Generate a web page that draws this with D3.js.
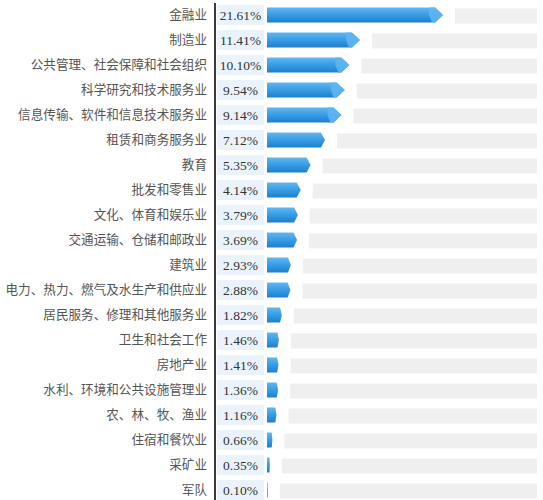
<!DOCTYPE html>
<html><head><meta charset="utf-8">
<script src="https://cdn.jsdelivr.net/npm/d3@7"></script>
<style>html,body{margin:0;padding:0;background:#fff;}svg{display:block;}</style>
</head><body>
<svg id="c" width="543" height="500"></svg>
<script>
const categories = ["金融业","制造业","公共管理、社会保障和社会组织","科学研究和技术服务业","信息传输、软件和信息技术服务业","租赁和商务服务业","教育","批发和零售业","文化、体育和娱乐业","交通运输、仓储和邮政业","建筑业","电力、热力、燃气及水生产和供应业","居民服务、修理和其他服务业","卫生和社会工作","房地产业","水利、环境和公共设施管理业","农、林、牧、渔业","住宿和餐饮业","采矿业","军队"];
const values = [21.61,11.41,10.10,9.54,9.14,7.12,5.35,4.14,3.79,3.69,2.93,2.88,1.82,1.46,1.41,1.36,1.16,0.66,0.35,0.10];
const valueLabels = ["21.61%","11.41%","10.10%","9.54%","9.14%","7.12%","5.35%","4.14%","3.79%","3.69%","2.93%","2.88%","1.82%","1.46%","1.41%","1.36%","1.16%","0.66%","0.35%","0.10%"];

const svg = d3.select("#c");
const defs = svg.append("defs");
const g1 = defs.append("linearGradient").attr("id","bg").attr("x1",0).attr("y1",0).attr("x2",0).attr("y2",1);
g1.append("stop").attr("offset","0%").attr("stop-color","#63b6ee");
g1.append("stop").attr("offset","45%").attr("stop-color","#3a9fe6");
g1.append("stop").attr("offset","100%").attr("stop-color","#1c7fcf");

const y = d3.scaleBand().domain(categories).range([2.5, 502.5]).paddingInner(0.4).paddingOuter(0.2);
const x = d3.scaleLinear().domain([0, 21.61]).range([267, 443]);
const bh = 15;
const cy = d => y(d) + y.bandwidth()/2;

const rows = svg.selectAll("g.row").data(categories.map((c,i)=>({c, v:values[i], l:valueLabels[i]})))
  .enter().append("g").attr("class","row");

// gray track
rows.append("rect").attr("x", d => x(d.v) + 12).attr("y", d => cy(d.c) - bh/2 + 1)
  .attr("width", d => 537 - (x(d.v) + 12)).attr("height", bh).attr("fill","#efefef");

// label box
rows.append("rect").attr("x", 217).attr("y", d => cy(d.c) - 10).attr("width", 47).attr("height", 20).attr("fill","#eaf3fb");

// blue bar
rows.append("path").attr("fill","url(#bg)").attr("d", d => {
  const x0 = x(0), x1 = x(d.v), w = x1 - x0;
  const t = w > 60 ? 8 : Math.min(4, w*0.12);
  const top = cy(d.c) - bh/2, bot = top + bh;
  return `M${x0},${top}L${x1-t},${top}L${x1},${(top+bot)/2}L${x1-t},${bot}L${x0},${bot}Z`;
});
// lighter tip on long bars
rows.filter(d => x(d.v) - x(0) > 60).append("path").attr("fill","#5fb4f2").attr("opacity",0.9).attr("d", d => {
  const x1 = x(d.v), t = 8;
  const top = cy(d.c) - bh/2, bot = top + bh;
  return `M${x1-t-6},${top}L${x1-t},${top}L${x1},${(top+bot)/2}L${x1-t},${bot}L${x1-t-3},${bot}L${x1-t-6},${(top+bot)/2}Z`;
});

// value labels
rows.append("text").attr("x", 240.5).attr("y", d => cy(d.c)).attr("dy","0.36em").attr("text-anchor","middle")
  .attr("font-family","'Liberation Serif','DejaVu Serif',serif").attr("font-size","13.5px").attr("fill","#333")
  .text(d => d.l);

// axis with category labels
const axis = d3.axisLeft(y).tickSize(0).tickPadding(8);
const ag = svg.append("g").attr("transform","translate(215,0)").call(axis);
ag.select(".domain").remove();
ag.selectAll("text").attr("font-family","'Noto Sans CJK SC',sans-serif").attr("font-size","12.6px").attr("fill","#555");
svg.append("line").attr("x1",215).attr("x2",215).attr("y1",3).attr("y2",500).attr("stroke","#3a3a3a").attr("stroke-width",2);
</script>
</body></html>
